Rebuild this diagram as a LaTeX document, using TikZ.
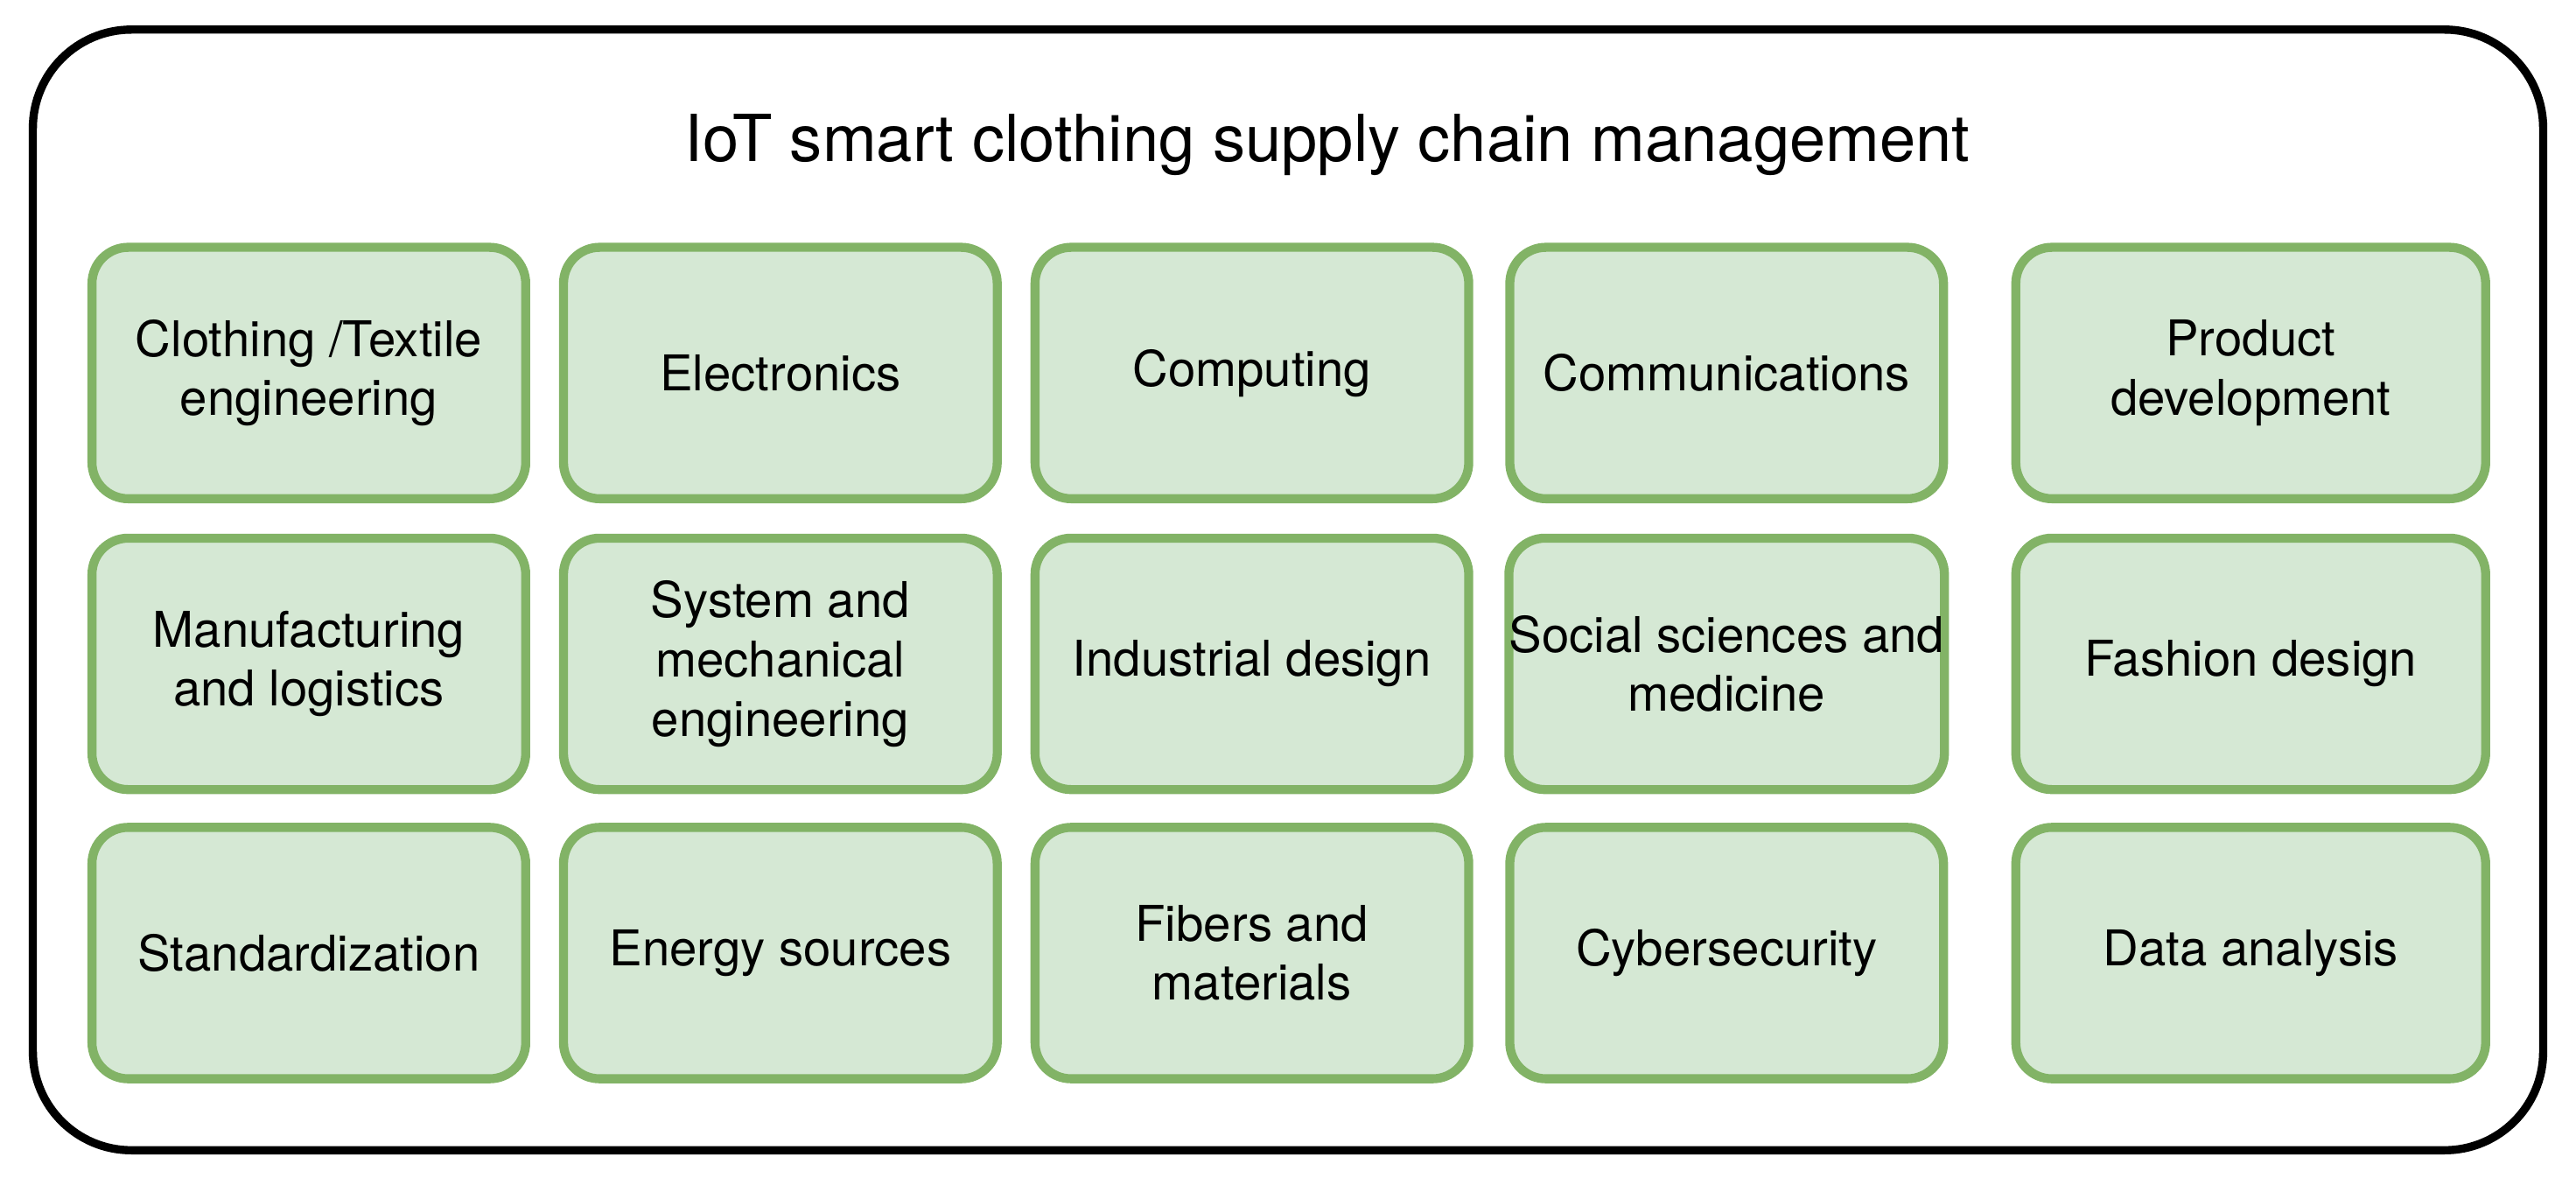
\documentclass[tikz,border=0pt]{standalone}
\usepackage{fontspec}
\setmainfont{TeX Gyre Heros}
\definecolor{bfill}{HTML}{D5E8D4}
\definecolor{bdraw}{HTML}{82B366}
\begin{document}
\begin{tikzpicture}[x=1pt,y=-1pt,
  box/.style={draw=bdraw,fill=bfill,line width=5.5pt,rounded corners=22pt,align=center,inner xsep=0pt,minimum height=153pt,minimum width=264pt,font=\fontsize{30}{36}\selectfont},
  wide/.style={box,minimum width=286pt},
]
\useasboundingbox (0,0) rectangle (1568,721);
\draw[line width=5pt,rounded corners=60pt] (20,18) rectangle (1548,700);
\node[font=\fontsize{39.5}{46}\selectfont] (title) at (808,88) {IoT smart clothing supply chain management};
\node[box] (a1) at (188,227) {Clothing /Textile\\engineering};
\node[box] (a2) at (475,227) {Electronics};
\node[box] (a3) at (762,227) {Computing};
\node[box] (a4) at (1051,227) {Communications};
\node[wide] (a5) at (1370,227) {Product\\development};
\node[box] (b1) at (188,404) {Manufacturing\\and logistics};
\node[box] (b2) at (475,404) {System and\\mechanical\\engineering};
\node[box] (b3) at (762,404) {Industrial design};
\node[box] (b4) at (1051,404) {Social sciences and\\medicine};
\node[wide] (b5) at (1370,404) {Fashion design};
\node[box] (c1) at (188,580) {Standardization};
\node[box] (c2) at (475,580) {Energy sources};
\node[box] (c3) at (762,580) {Fibers and\\materials};
\node[box] (c4) at (1051,580) {Cybersecurity};
\node[wide] (c5) at (1370,580) {Data analysis};
\end{tikzpicture}
\end{document}
